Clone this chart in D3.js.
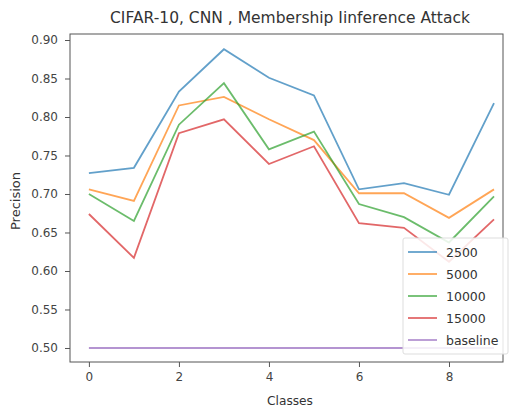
<!DOCTYPE html>
<html><head><meta charset="utf-8">
<script src="https://cdn.jsdelivr.net/npm/d3@7"></script>
<style>body{margin:0;background:#fff;} text{font-family:"DejaVu Sans",sans-serif;fill:#333;}</style>
</head><body>
<svg id="c" width="511" height="408"></svg>
<script>
const classes = [0,1,2,3,4,5,6,7,8,9];
const s2500  = [0.727,0.734,0.833,0.888,0.851,0.828,0.706,0.714,0.699,0.818];
const s5000  = [0.706,0.691,0.815,0.826,0.797,0.770,0.701,0.701,0.669,0.706];
const s10000 = [0.700,0.665,0.790,0.844,0.758,0.781,0.687,0.670,0.637,0.697];
const s15000 = [0.674,0.617,0.779,0.797,0.739,0.762,0.662,0.656,0.612,0.667];
const baseline = [0.5,0.5,0.5,0.5,0.5,0.5,0.5,0.5,0.5,0.5];
const seriesNames = ["2500","5000","10000","15000","baseline"];
const seriesValues = [s2500,s5000,s10000,s15000,baseline];
const colors = ["#1f77b4","#ff7f0e","#2ca02c","#d62728","#9467bd"];
const yTicks = [0.50,0.55,0.60,0.65,0.70,0.75,0.80,0.85,0.90];
const xTicks = [0,2,4,6,8];

const L=70,R=503,T=34,B=362;
const svg=d3.select("#c");
const x=d3.scaleLinear().domain([-0.42,9.2]).range([L,R]);
const y=d3.scaleLinear().domain([0.4818,0.9078]).range([B,T]);

const g=svg.append("g");
const line=d3.line().x((d,i)=>x(classes[i])).y(d=>y(d));
seriesValues.forEach((vals,k)=>{
  g.append("path").attr("d",line(vals)).attr("fill","none")
   .attr("stroke",colors[k]).attr("stroke-width",1.8).attr("stroke-opacity",0.7);
});

svg.append("rect").attr("x",L).attr("y",T).attr("width",R-L).attr("height",B-T)
  .attr("fill","none").attr("stroke","#555").attr("stroke-width",1);

const xa=svg.append("g").attr("transform",`translate(0,${B})`)
  .call(d3.axisBottom(x).tickValues(xTicks).tickFormat(d3.format("d")).tickSize(5).tickPadding(5));
const ya=svg.append("g").attr("transform",`translate(${L},0)`)
  .call(d3.axisLeft(y).tickValues(yTicks).tickFormat(d3.format(".2f")).tickSize(5).tickPadding(7));
[xa,ya].forEach(a=>{a.select(".domain").remove();a.selectAll("line").attr("stroke","#555");
  a.selectAll("text").attr("font-size",12).style("fill","#444").attr("font-family","DejaVu Sans");});

svg.append("text").attr("x",290).attr("y",23).attr("text-anchor","middle")
  .attr("font-size",15.5).text("CIFAR-10, CNN , Membership Iinference Attack");
svg.append("text").attr("x",290).attr("y",405).attr("text-anchor","middle")
  .attr("font-size",12.2).text("Classes");
svg.append("text").attr("transform",`translate(20,201) rotate(-90)`).attr("text-anchor","middle")
  .attr("font-size",13).text("Precision");

const lg=svg.append("g");
lg.append("rect").attr("x",403).attr("y",238).attr("width",105).attr("height",116).attr("rx",2)
  .attr("fill","#fff").attr("fill-opacity",0.85).attr("stroke","#ddd");
seriesNames.forEach((n,k)=>{
  const yy=252+k*22;
  lg.append("line").attr("x1",408).attr("x2",437).attr("y1",yy).attr("y2",yy)
    .attr("stroke",colors[k]).attr("stroke-width",1.8).attr("stroke-opacity",0.7);
  lg.append("text").attr("x",446).attr("y",yy+4.5).attr("font-size",12.5).text(n);
});
</script>
</body></html>
